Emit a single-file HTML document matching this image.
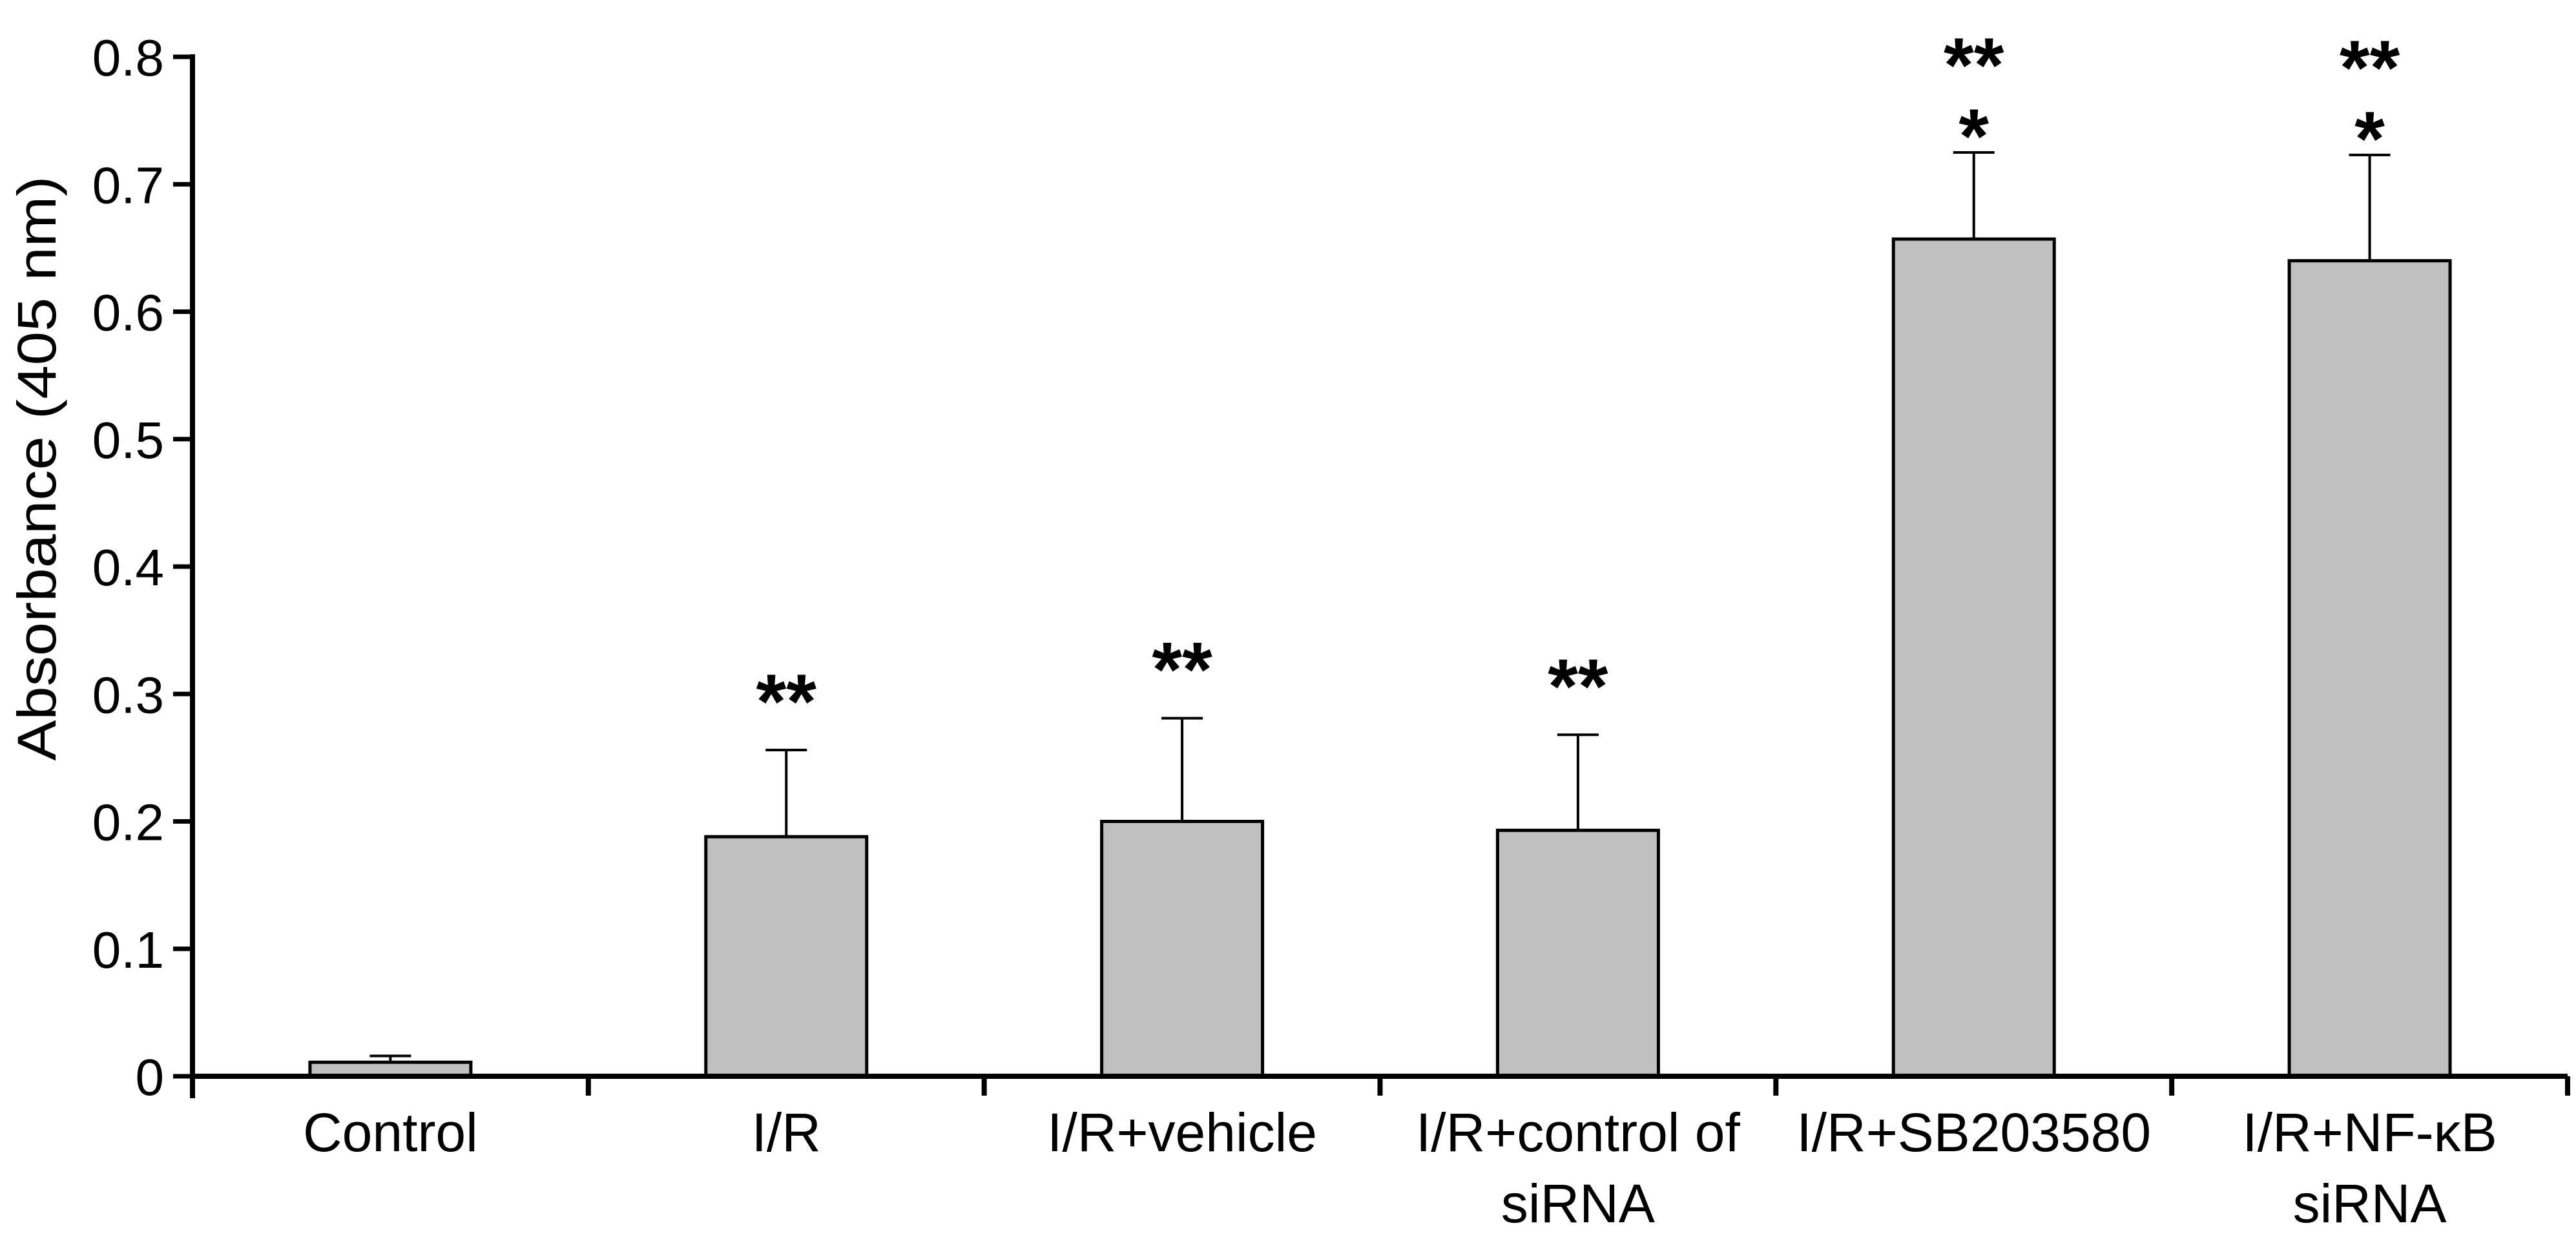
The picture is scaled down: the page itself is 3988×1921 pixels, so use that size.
<!DOCTYPE html>
<html><head><meta charset="utf-8"><style>
html,body{margin:0;padding:0;background:#fff;}
svg{display:block;font-family:"Liberation Sans",Arial,sans-serif;}
</style></head><body>
<svg id="chart" width="3988" height="1921" viewBox="0 0 3988 1921" xmlns="http://www.w3.org/2000/svg">
<g id="plot"></g>
</svg>
<script>
const categories = [["Control"],["I/R"],["I/R+vehicle"],["I/R+control of","siRNA"],["I/R+SB203580"],["I/R+NF-κB","siRNA"]];
const values = [0.011, 0.188, 0.200, 0.193, 0.657, 0.640];
const errors = [0.005, 0.068, 0.081, 0.075, 0.068, 0.083];
const marks = [["",""],["**",""],["**",""],["**",""],["**","*"],["**","*"]];
const yTicks = [0,0.1,0.2,0.3,0.4,0.5,0.6,0.7,0.8];
const tickLabels = ["0","0.1","0.2","0.3","0.4","0.5","0.6","0.7","0.8"];

const NS="http://www.w3.org/2000/svg";
const g=document.getElementById('plot');
const X0=298, X1=3975, Y0=1666, Y8=88;
const n=categories.length, step=(X1-X0)/n, barW=249;
const AF=120, AO=66;
function y(v){return Y0-(v/0.8)*(Y0-Y8);}
function xc(i){return X0+step*(i+0.5);}
function mk(tag,attrs,text){const e=document.createElementNS(NS,tag);for(const k in attrs)e.setAttribute(k,attrs[k]);if(text!==undefined)e.textContent=text;g.appendChild(e);return e;}

values.forEach((v,i)=>{
  const cx=xc(i), top=y(v+errors[i]);
  const eb=mk('line',{x1:cx,x2:cx,y1:y(v),y2:top,stroke:'#000','stroke-width':4});
  
  
  const cap=mk('line',{x1:cx-32,x2:cx+32,y1:top,y2:top,stroke:'#000','stroke-width':4});
  
  
  const r=mk('rect',{x:cx-barW/2,y:y(v),width:barW,height:Y0-y(v),fill:'#c0c0c0',stroke:'#000','stroke-width':5});
  
  
  const m=marks[i];
  if(m[1]){
    const t1=mk('text',{x:cx,y:top-50+AO,'text-anchor':'middle','font-size':AF,'font-weight':'bold'},m[1]);
    
    
    const t2=mk('text',{x:cx,y:top-160+AO,'text-anchor':'middle','font-size':AF,'font-weight':'bold'},m[0]);
    
    
  } else if(m[0]){
    const t=mk('text',{x:cx,y:top-100+AO,'text-anchor':'middle','font-size':AF,'font-weight':'bold'},m[0]);
    
    
  }
  categories[i].forEach((line,j)=>{
    const t=mk('text',{x:cx,y:1782+j*110,'text-anchor':'middle','font-size':84},line);
    
    
  });
});

const ya=mk('line',{x1:X0,x2:X0,y1:Y8-4,y2:Y0+34,stroke:'#000','stroke-width':8});


const xa=mk('line',{x1:X0-4,x2:X1,y1:Y0,y2:Y0,stroke:'#000','stroke-width':8});


yTicks.forEach((v,i)=>{
  const tk=mk('line',{x1:X0-30,x2:X0,y1:y(v),y2:y(v),stroke:'#000','stroke-width':7});
  
  
  const t=mk('text',{x:254,y:y(v)+29,'text-anchor':'end','font-size':80},tickLabels[i]);
  
  
});
for(let i=1;i<=n;i++){
  const tk=mk('line',{x1:X0+step*i,x2:X0+step*i,y1:Y0,y2:Y0+30,stroke:'#000','stroke-width':8});
  
  
}
const yt=mk('text',{x:0,y:0,'text-anchor':'middle','font-size':84,textLength:905,lengthAdjust:'spacingAndGlyphs',transform:'translate(86,725) rotate(-90)'},'Absorbance (405 nm)');


</script>
</body></html>
